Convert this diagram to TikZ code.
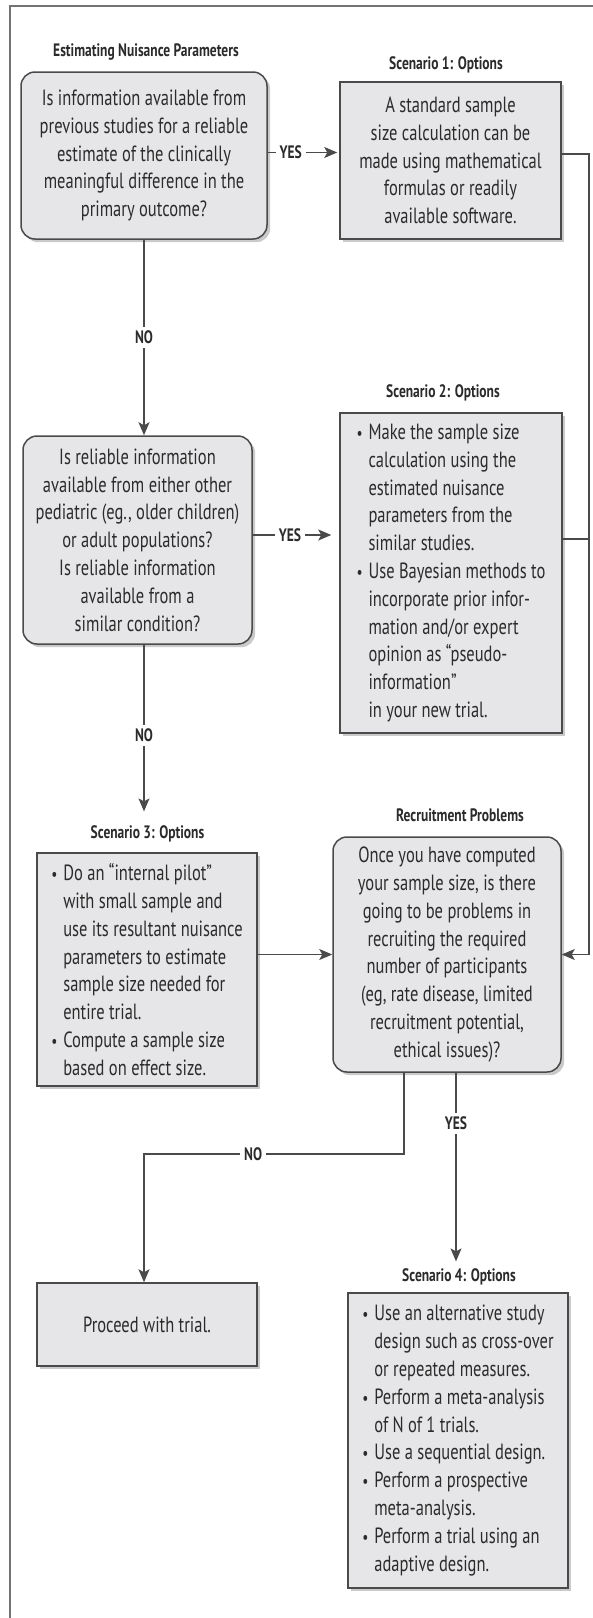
\documentclass[tikz,border=0pt]{standalone}
\usepackage{fontspec}
\setmainfont[FakeStretch=0.75]{PT Sans}
\usetikzlibrary{arrows.meta,shadows}
\definecolor{boxfill}{HTML}{E6E6E8}
\definecolor{boxline}{HTML}{4A4A4A}
\definecolor{inkgray}{HTML}{2B2B2B}
\newcommand{\optitem}{\makebox[6pt][l]{\small\textbullet}}
\newcommand{\optcont}{\hspace*{6pt}}

\begin{document}
\begin{tikzpicture}[
  x=0.5pt, y=-0.5pt,
  every node/.style={text=inkgray,font=\fontsize{11}{13.9}\selectfont},
  card/.style={draw=boxline,line width=0.75pt,fill=boxfill,inner sep=0pt,
    drop shadow={shadow xshift=1.6pt,shadow yshift=-1.6pt,opacity=.35,fill=black!60}},
  ask/.style={card,rounded corners=7pt,align=center},
  opt/.style={card,align=left},
  ttl/.style={font=\bfseries\fontsize{9}{10}\selectfont,inner sep=0pt},
  yn/.style={font=\bfseries\fontsize{9}{10}\selectfont,fill=white,inner sep=2pt},
  conn/.style={draw=boxline,line width=0.6pt},
  >={Stealth[length=6.5pt,width=5.5pt,inset=1.5pt]}
]
  \useasboundingbox (0,0) rectangle (593,1618);
  \draw[line width=0.6pt,draw=black!55] (593,6) -- (10,6) -- (10,1618);

  \node[ttl] (te) at (146,52) {Estimating Nuisance Parameters};
  \node[ask,minimum width=123pt,minimum height=83.5pt] (q1) at (144,155.5)
    {Is information available from\\previous studies for a reliable\\estimate of the clinically\\meaningful difference in the\\primary outcome?};
  \node[ttl] (ts1) at (446,65) {Scenario 1: Options};
  \node[card,align=center,minimum width=110.5pt,minimum height=78.5pt] (s1) at (450.5,160.5)
    {A standard sample\\size calculation can be\\made using mathematical\\formulas or readily\\available software.};

  \node[ask,minimum width=114.5pt,minimum height=104pt] (q2) at (137.5,540)
    {Is reliable information\\available from either other\\pediatric (eg., older children)\\or adult populations?\\Is reliable information\\available from a\\similar condition?};
  \node[ttl] (ts2) at (443,393) {Scenario 2: Options};
  \node[opt,minimum width=111pt,minimum height=160pt] (s2) at (451,573)
    {\optitem Make the sample size\\\optcont calculation using the\\\optcont estimated nuisance\\\optcont parameters from the\\\optcont similar studies.\\
     \optitem Use Bayesian methods to\\\optcont incorporate prior infor-\\\optcont mation and/or expert\\\optcont opinion as “pseudo-\\\optcont information”\\\optcont in your new trial.};

  \node[ttl] (ts3) at (147.5,834) {Scenario 3: Options};
  \node[opt,minimum width=110pt,minimum height=116.5pt] (s3) at (147,969.5)
    {\optitem Do an “internal pilot”\\\optcont with small sample and\\\optcont use its resultant nuisance\\\optcont parameters to estimate\\\optcont sample size needed for\\\optcont entire trial.\\
     \optitem Compute a sample size\\\optcont based on effect size.};
  \node[ttl] (trp) at (460,815) {Recruitment Problems};
  \node[ask,minimum width=114pt,minimum height=117.5pt] (q3) at (447,954.5)
    {Once you have computed\\your sample size, is there\\going to be problems in\\recruiting the required\\number of participants\\(eg, rate disease, limited\\recruitment potential,\\ethical issues)?};

  \node[card,minimum width=110pt,minimum height=41.5pt] (proceed) at (147,1324.5) {Proceed with trial.};
  \node[ttl] (ts4) at (459,1277) {Scenario 4: Options};
  \node[opt,minimum width=110pt,minimum height=147.5pt] (s4) at (458,1440.5)
    {\optitem Use an alternative study\\\optcont design such as cross-over\\\optcont or repeated measures.\\
     \optitem Perform a meta-analysis\\\optcont of N of 1 trials.\\
     \optitem Use a sequential design.\\
     \optitem Perform a prospective\\\optcont meta-analysis.\\
     \optitem Perform a trial using an\\\optcont adaptive design.};

  \coordinate (rail) at (589,154);
  \coordinate (nobend) at (404,1154);
  \draw[conn,->,shorten >=1pt] ([yshift=1.5pt]q1.east) -- node[yn,pos=.32]{YES} ([yshift=1.5pt]q1.east -| s1.west);
  \draw[conn,->] (q1.south) -- node[yn]{NO} (q1.south |- q2.north);
  \draw[conn,->,shorten >=4pt] ([yshift=2.5pt]q2.east) -- node[yn,pos=.43]{YES} ([yshift=2.5pt]q2.east -| s2.west);
  \draw[conn,->,shorten >=7pt] (q1.south |- q2.south) -- node[yn]{NO} (q1.south |- ts3.north);
  \draw[conn,->] ([yshift=3.25pt]s1.east) -- (rail) -- (rail |- q3.east) -- (q3.east);
  \draw[conn] ([yshift=17pt]s2.east) -- ([yshift=17pt]s2.east -| rail);
  \draw[conn,->] (s3.east |- q3.west) -- (q3.west);
  \draw[conn,->] (q3.south -| nobend) -- (nobend) -- node[yn,pos=.58]{NO} (nobend -| q1.south) -- (q1.south |- proceed.north);
  \draw[conn,->,shorten >=3.5pt] ([xshift=4.5pt]q3.south) -- node[yn,pos=.26]{YES} ([xshift=4.5pt]q3.south |- ts4.north);
\end{tikzpicture}
\end{document}
